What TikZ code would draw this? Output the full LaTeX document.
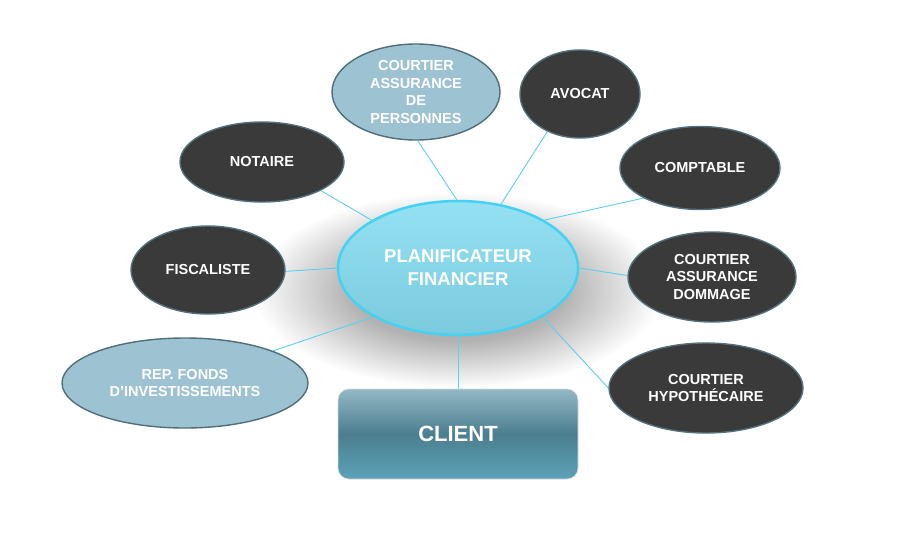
\documentclass[tikz,border=0pt]{standalone}
\usepackage{fontspec}
\setmainfont{Liberation Sans}
\usetikzlibrary{shapes.geometric,backgrounds}
\definecolor{darkfill}{HTML}{3A3A3A}
\definecolor{darkedge}{HTML}{56707B}
\definecolor{lightfill}{HTML}{9DC3D2}
\definecolor{lightedge}{HTML}{4F6E7A}
\definecolor{linkcol}{HTML}{5DD0EA}
\definecolor{ctop}{HTML}{94E1F3}
\definecolor{cbot}{HTML}{7BCADD}
\definecolor{cedge}{HTML}{45D2F2}
\definecolor{cltop}{HTML}{93B8C5}
\definecolor{clmid}{HTML}{4B7E8F}
\definecolor{clbot}{HTML}{5CA2B7}
\pgfdeclareradialshading{cshadow}{\pgfpoint{0bp}{0bp}}{color(0bp)=(black!40); color(13bp)=(black!30); color(25bp)=(white); color(50bp)=(white)}
\tikzset{
  bubble/.style={ellipse, inner sep=0pt, align=center, text=white,
    font=\fontsize{14.5}{17.7}\selectfont\bfseries, line width=1.4pt},
  darkbubble/.style={bubble, fill=darkfill, draw=darkedge},
  lightbubble/.style={bubble, fill=lightfill, draw=lightedge},
  link/.style={draw=linkcol, line width=0.9pt},
}
\begin{document}
\begin{tikzpicture}[x=1pt,y=-1pt]
\useasboundingbox (0,0) rectangle (900,549);

\node[ellipse, top color=ctop, bottom color=cbot, draw=cedge, line width=2.5pt,
  minimum width=240pt, minimum height=134pt, inner sep=0pt, align=center, text=white,
  font=\fontsize{18.5}{23}\selectfont\bfseries] (c) at (458,268) {PLANIFICATEUR\\FINANCIER};

\node[rounded corners=11pt, top color=cltop, bottom color=clbot, middle color=clmid,
  draw=black!15, line width=0.6pt, minimum width=240pt, minimum height=90pt, inner sep=0pt,
  text=white, font=\fontsize{22}{26}\selectfont\bfseries] (client) at (458,434) {CLIENT};

\node[darkbubble, minimum width=164pt, minimum height=80pt] (notaire) at (262,162) {NOTAIRE};
\node[lightbubble, minimum width=168pt, minimum height=96pt, inner ysep=-1pt] (pers) at (416,92) {COURTIER\\ASSURANCE\\DE\\PERSONNES};
\node[darkbubble, minimum width=120pt, minimum height=88pt] (avocat) at (580,94) {AVOCAT};
\node[darkbubble, minimum width=160pt, minimum height=83pt] (compt) at (700,168) {COMPTABLE};
\node[darkbubble, minimum width=154pt, minimum height=88pt] (fisc) at (208,270) {FISCALISTE};
\node[darkbubble, minimum width=168pt, minimum height=90pt] (dom) at (712,277) {COURTIER\\ASSURANCE\\DOMMAGE};
\node[lightbubble, minimum width=246pt, minimum height=90pt] (rep) at (185,383) {REP. FONDS\\D’INVESTISSEMENTS};
\node[darkbubble, minimum width=194pt, minimum height=90pt] (hyp) at (706,388) {COURTIER\\HYPOTHÉCAIRE};

\begin{pgfonlayer}{background}
  \shade[shading=cshadow] (458,290) ellipse [x radius=205pt, y radius=98pt];
  \draw[link] (notaire.-26) -- (c.151);
  \draw[link] (pers.-88) -- (c.91);
  \draw[link] (avocat.-131) -- (c.56);
  \draw[link] (compt.-152) -- (c.29);
  \draw[link] (fisc.-1) -- (c.180);
  \draw[link] (dom.179) -- (c.0);
  \draw[link] (rep.20) -- (c.-150);
  \draw[link] (hyp.180) -- (c.-30);
  \draw[link] (c.south) -- (client.north);
\end{pgfonlayer}
\end{tikzpicture}
\end{document}
